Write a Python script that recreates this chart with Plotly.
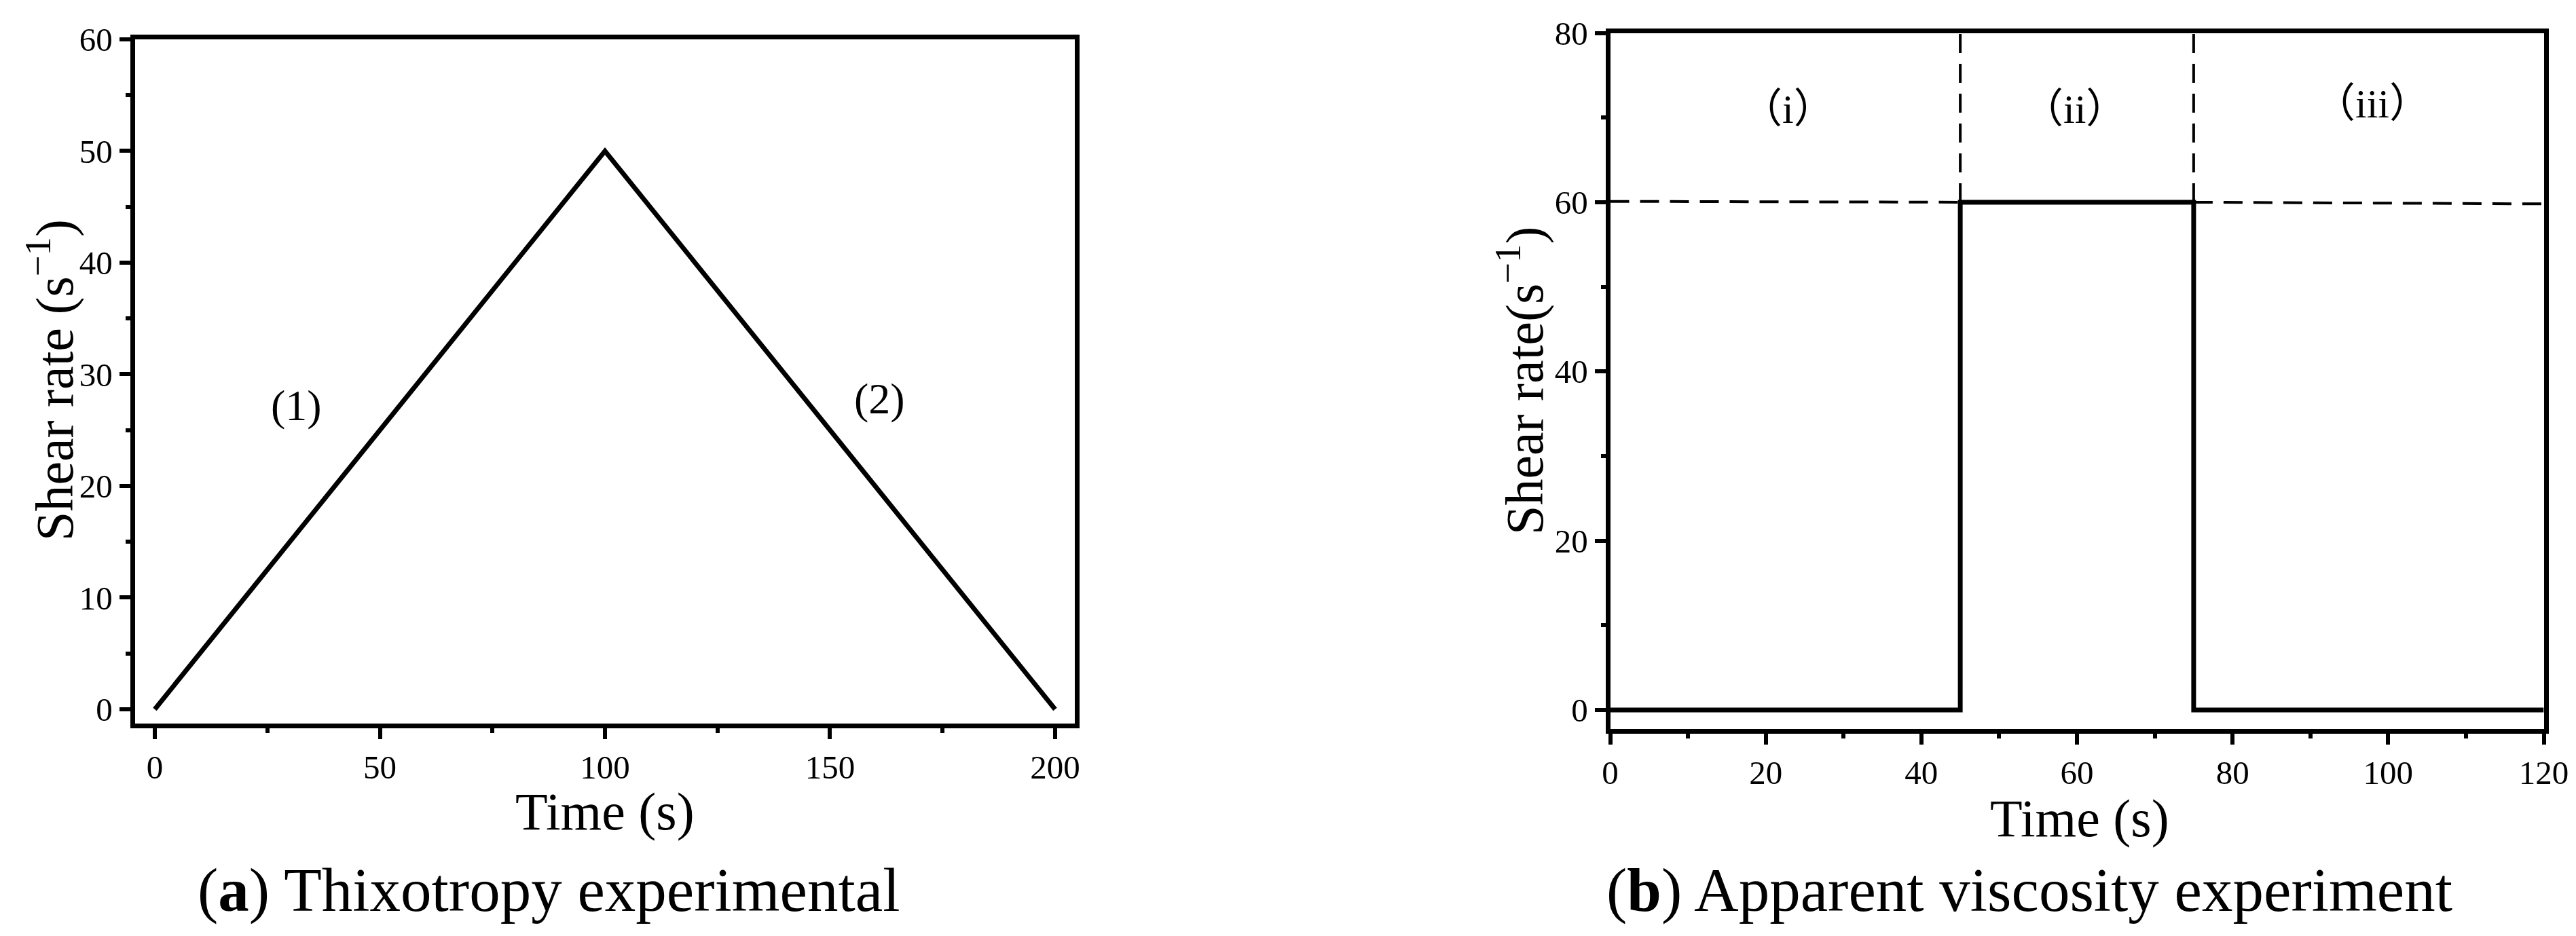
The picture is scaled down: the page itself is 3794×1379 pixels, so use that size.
import plotly.graph_objects as go

# ---------------- data ----------------
thix_time = [0, 100, 200]
thix_rate = [0, 50, 0]

visc_time = [0, 45, 45, 75, 75, 120]
visc_rate = [0, 0, 60, 60, 0, 0]

ref_left_time = [0, 45]
ref_left_rate = [60.1, 60.0]
ref_right_time = [75, 120]
ref_right_rate = [60.0, 59.8]
vline1_time = [45, 45]
vline2_time = [75, 75]
vline_rate = [60, 80]

a_ticks = [0, 50, 100, 150, 200]
a_yticks = [0, 10, 20, 30, 40, 50, 60]
b_ticks = [0, 20, 40, 60, 80, 100, 120]
b_yticks = [0, 20, 40, 60, 80]

a_labels = ["(1)", "(2)"]
a_label_x = [31.4, 161]
a_label_y = [27.2, 27.8]
b_labels = ["（i）", "（ii）", "（iii）"]
b_label_x = [22.9, 59.7, 98.0]
b_label_y = [71.0, 71.0, 71.6]

W, H = 3794, 1379
FONT = "Liberation Serif, Times New Roman, serif"
BLACK = "#000000"


def px_x(p):
    return p / W


def px_y(p):
    return 1 - p / H


fig = go.Figure()

# panel (a)
fig.add_trace(go.Scatter(x=thix_time, y=thix_rate, mode="lines",
                         line=dict(color=BLACK, width=7), xaxis="x", yaxis="y",
                         showlegend=False))
# panel (b)
dash = "28px,16px"
for xs, ys in [(ref_left_time, ref_left_rate), (ref_right_time, ref_right_rate),
               (vline1_time, vline_rate), (vline2_time, vline_rate)]:
    fig.add_trace(go.Scatter(x=xs, y=ys, mode="lines",
                             line=dict(color=BLACK, width=4, dash=dash),
                             xaxis="x2", yaxis="y2", showlegend=False))
fig.add_trace(go.Scatter(x=visc_time, y=visc_rate, mode="lines",
                         line=dict(color=BLACK, width=7), xaxis="x2", yaxis="y2",
                         showlegend=False))

tickfont = dict(family=FONT, size=49, color=BLACK)
axis_common = dict(showline=True, linecolor=BLACK, linewidth=7, mirror=True,
                   ticks="outside", ticklen=16, tickwidth=6, tickcolor=BLACK,
                   showgrid=False, zeroline=False, tickfont=tickfont,
                   fixedrange=True, automargin=False)

fig.update_layout(
    width=W, height=H,
    margin=dict(l=0, r=0, t=0, b=0, autoexpand=False),
    paper_bgcolor="white", plot_bgcolor="white",
    xaxis=dict(domain=[px_x(190.5), px_x(1574.5)], anchor="y",
               range=[-4.45, 204.3], tickvals=a_ticks,
               minor=dict(tickvals=[25, 75, 125, 175], ticklen=7, tickwidth=6,
                          ticks="outside", tickcolor=BLACK),
               **axis_common),
    yaxis=dict(domain=[px_y(1057.5), px_y(50)], anchor="x",
               range=[-1.25, 60], tickvals=a_yticks,
               minor=dict(tickvals=[5, 15, 25, 35, 45, 55], ticklen=7, tickwidth=6,
                          ticks="outside", tickcolor=BLACK),
               **axis_common),
    xaxis2=dict(domain=[px_x(2363.5), px_x(3738.5)], anchor="y2",
                range=[0, 120], tickvals=b_ticks,
                minor=dict(tickvals=[10, 30, 50, 70, 90, 110], ticklen=7, tickwidth=6,
                           ticks="outside", tickcolor=BLACK),
                **axis_common),
    yaxis2=dict(domain=[px_y(1065.5), px_y(40.5)], anchor="x2",
                range=[-2.2, 80], tickvals=b_yticks,
                minor=dict(tickvals=[10, 30, 50, 70], ticklen=7, tickwidth=6,
                           ticks="outside", tickcolor=BLACK),
                **axis_common),
)

annotations = []
for t, x, y in zip(a_labels, a_label_x, a_label_y):
    annotations.append(dict(text=t, x=x, y=y, xref="x", yref="y", showarrow=False,
                            font=dict(family=FONT, size=64, color=BLACK)))
for t, x, y in zip(b_labels, b_label_x, b_label_y):
    annotations.append(dict(text=t, x=x, y=y, xref="x2", yref="y2", showarrow=False,
                            font=dict(family=FONT + ", Noto Sans CJK SC", size=60, color=BLACK)))

title_font = dict(family=FONT, size=78, color=BLACK)
# axis titles
annotations += [
    dict(text="Shear rate (s<sup>−1</sup>)", x=px_x(66), y=px_y(552), xref="paper", yref="paper",
         textangle=-90, showarrow=False, font=title_font, xanchor="center", yanchor="middle"),
    dict(text="Shear rate(s<sup>−1</sup>)", x=px_x(2231), y=px_y(553), xref="paper", yref="paper",
         textangle=-90, showarrow=False, font=title_font, xanchor="center", yanchor="middle"),
    dict(text="Time (s)", x=px_x(883), y=px_y(1187), xref="paper", yref="paper",
         showarrow=False, font=title_font, xanchor="center", yanchor="middle"),
    dict(text="Time (s)", x=px_x(3055), y=px_y(1197), xref="paper", yref="paper",
         showarrow=False, font=title_font, xanchor="center", yanchor="middle"),
]
cap_font = dict(family=FONT, size=91, color=BLACK)
annotations += [
    dict(text="(<b>a</b>) Thixotropy experimental", x=px_x(800), y=px_y(1303),
         xref="paper", yref="paper", showarrow=False, font=cap_font,
         xanchor="center", yanchor="middle"),
    dict(text="(<b>b</b>) Apparent viscosity experiment", x=px_x(2981), y=px_y(1303),
         xref="paper", yref="paper", showarrow=False, font=cap_font,
         xanchor="center", yanchor="middle"),
]
fig.update_layout(annotations=annotations)

fig.write_html("out.html")
